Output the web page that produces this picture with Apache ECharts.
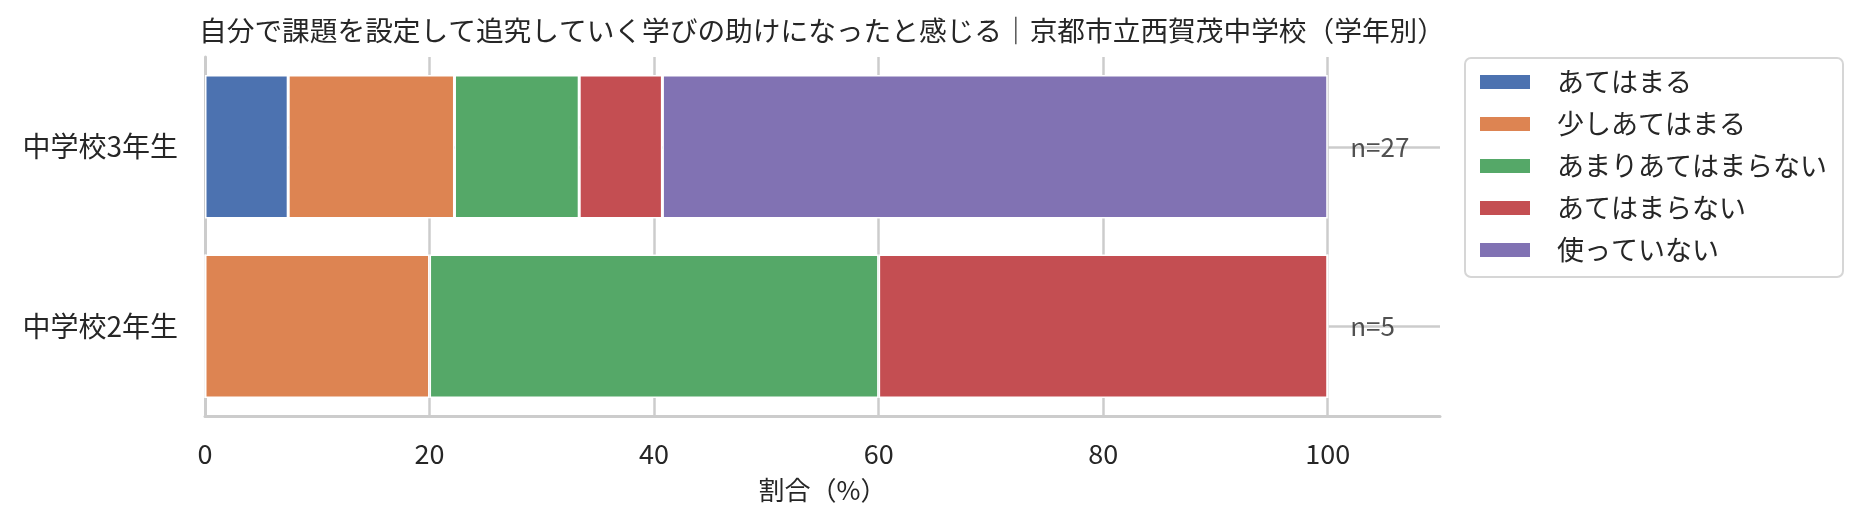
<!DOCTYPE html>
<html>
<head>
<meta charset="utf-8">
<script src="https://cdn.jsdelivr.net/npm/echarts@6/dist/echarts.min.js"></script>
<style>
html,body{margin:0;padding:0;background:#fff;}
#chart{width:1862px;height:529px;}
</style>
</head>
<body>
<div id="chart"></div>
<script>
const titleText = '自分で課題を設定して追究していく学びの助けになったと感じる｜京都市立西賀茂中学校（学年別）';
const categories = ['中学校3年生', '中学校2年生'];
const seriesNames = ['あてはまる', '少しあてはまる', 'あまりあてはまらない', 'あてはまらない', '使っていない'];
const colors = ['#4C72B0', '#DD8452', '#55A868', '#C44E52', '#8172B3'];
// percentages per category (中学校3年生, 中学校2年生)
const valAtehamaru = [7.41, 0];
const valSukoshi = [14.81, 20];
const valAmari = [11.11, 40];
const valAtehamaranai = [7.41, 40];
const valTsukatteinai = [59.26, 0];
const nLabels = ['n=27', 'n=5'];
const nLabelX = 102;
const xTicks = [0, 20, 40, 60, 80, 100];

const seriesValues = [valAtehamaru, valSukoshi, valAmari, valAtehamaranai, valTsukatteinai];
const FONT = '"Noto Sans CJK JP", "Noto Sans", sans-serif';
const TXT = '#262626';

const chart = echarts.init(document.getElementById('chart'), null, {renderer: 'canvas'});

const barSeries = seriesNames.map((name, i) => ({
  name: name,
  type: 'bar',
  stack: 'total',
  barWidth: '80%',
  itemStyle: {color: colors[i], borderColor: '#ffffff', borderWidth: 1.5},
  emphasis: {disabled: true},
  data: seriesValues[i]
}));

const nSeries = {
  type: 'scatter',
  symbolSize: 0,
  silent: true,
  z: 10,
  data: categories.map((c, i) => [nLabelX, c, nLabels[i]]),
  label: {
    show: true,
    position: 'right',
    distance: 0,
    formatter: p => p.data[2],
    fontFamily: FONT,
    fontSize: 26,
    color: TXT
  }
};

chart.setOption({
  animation: false,
  backgroundColor: '#ffffff',
  color: colors,
  title: {
    text: titleText,
    left: 199,
    top: 17,
    padding: 0,
    textStyle: {fontFamily: FONT, fontSize: 27.7, fontWeight: 'normal', color: TXT}
  },
  legend: {
    data: seriesNames,
    orient: 'vertical',
    left: 1465,
    top: 58,
    padding: [10, 16, 13, 13],
    itemWidth: 52,
    itemHeight: 16,
    itemGap: 14,
    icon: 'rect',
    backgroundColor: '#ffffff',
    borderColor: '#d6d6d6',
    borderWidth: 2,
    borderRadius: 6,
    textStyle: {fontFamily: FONT, fontSize: 27, color: TXT, lineHeight: 28, padding: [0, 0, 0, 21]}
  },
  grid: {left: 205, right: 422, top: 57, bottom: 113, containLabel: false},
  xAxis: {
    type: 'value',
    min: 0,
    max: 110,
    interval: 20,
    name: '割合（%）',
    nameLocation: 'middle',
    nameGap: 61,
    nameTextStyle: {fontFamily: FONT, fontSize: 26, color: TXT},
    axisLine: {show: true, lineStyle: {color: '#cccccc', width: 3}},
    axisTick: {show: false},
    axisLabel: {
      fontFamily: FONT, fontSize: 27, color: TXT, margin: 24,
      formatter: v => (xTicks.indexOf(v) >= 0 ? String(v) : '')
    },
    splitLine: {show: true, showMaxLine: false, lineStyle: {color: '#cccccc', width: 2.5}}
  },
  yAxis: {
    type: 'category',
    data: categories,
    inverse: true,
    axisLine: {show: true, lineStyle: {color: '#cccccc', width: 3}},
    axisTick: {show: false},
    axisLabel: {fontFamily: FONT, fontSize: 28, color: TXT, margin: 27},
    splitLine: {show: true, alignWithLabel: true, lineStyle: {color: '#cccccc', width: 2.5}}
  },
  series: barSeries.concat([nSeries])
});
</script>
</body>
</html>
